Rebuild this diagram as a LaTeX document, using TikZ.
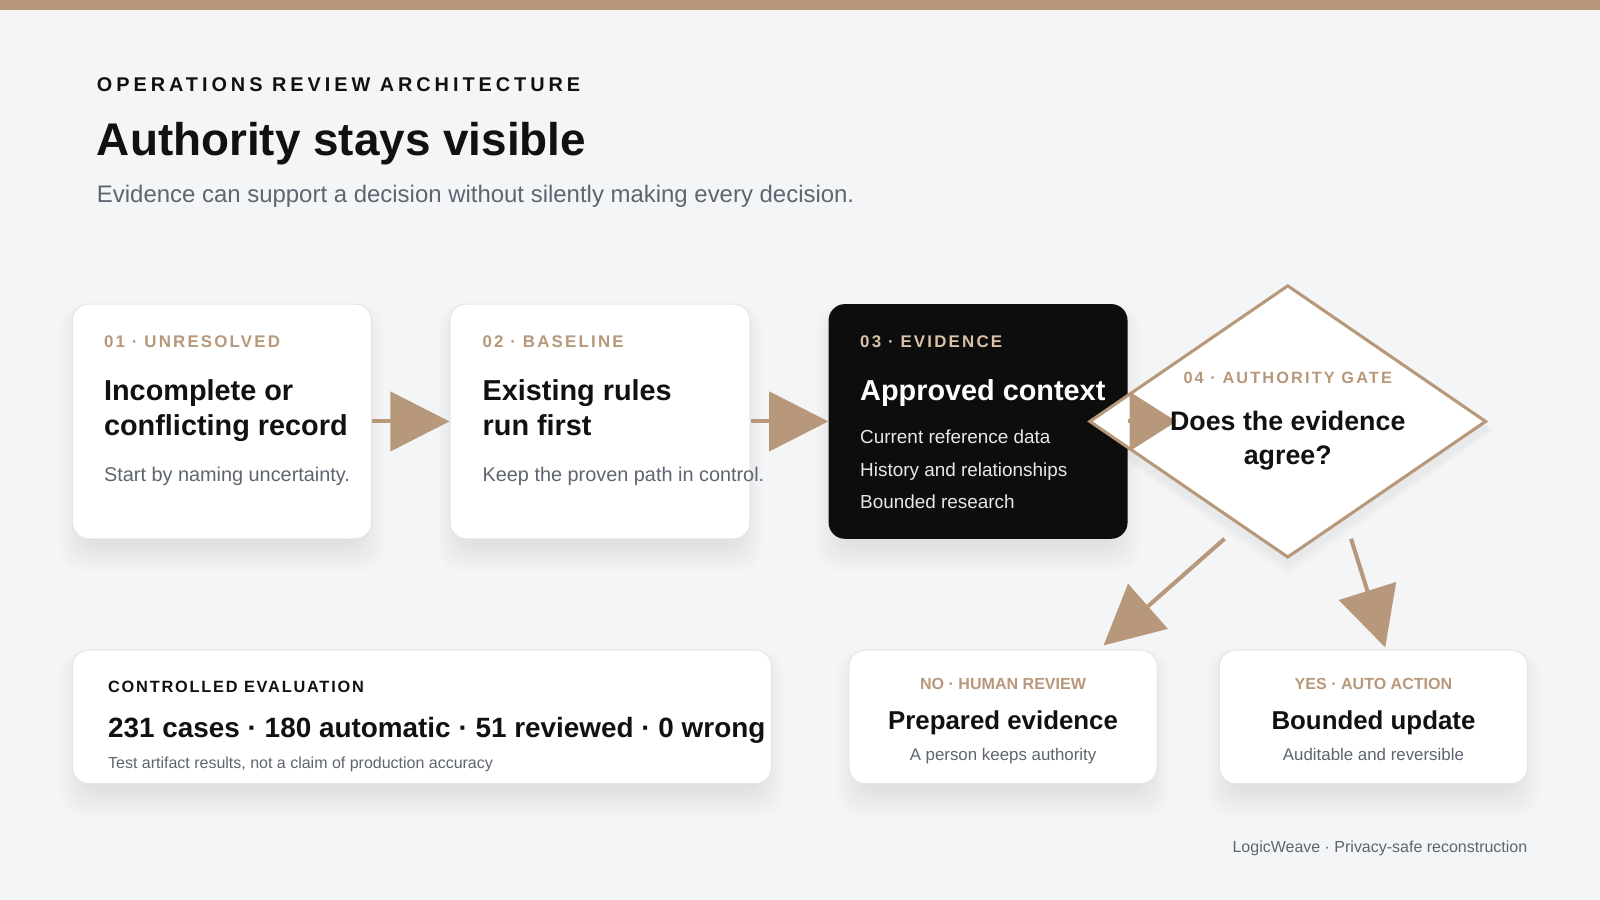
\documentclass[tikz,border=0pt]{standalone}
\usepackage{fontspec}
\setmainfont{Liberation Sans}
\usetikzlibrary{arrows.meta,shapes.geometric,calc,fit}
\definecolor{tan}{HTML}{B8987A}
\definecolor{tanlight}{HTML}{D9C2A8}
\definecolor{bgc}{HTML}{F4F5F7}
\definecolor{ink}{HTML}{111111}
\definecolor{graytxt}{HTML}{5E6570}
\definecolor{cardline}{HTML}{E3E5E9}
\definecolor{darkcard}{HTML}{0D0D0D}
\definecolor{listtxt}{HTML}{E8E8E8}
\newcommand\softshade[4]{%
  \foreach \k in {1,...,10}{%
    \fill[black,opacity=0.0065,rounded corners=16pt]
      ({#1+12-\k*2.4},{#2+14-\k*1.4}) rectangle ({#3-12+\k*2.4},{#4+4+\k*2.8});
  }%
}
\begin{document}
\begin{tikzpicture}[x=0.75pt,y=-0.75pt,
  card/.style={draw=cardline,line width=0.75pt,fill=white,rounded corners=12pt,inner sep=0pt},
  darkbox/.style={draw=none,fill=darkcard,rounded corners=12pt,inner sep=0pt},
  txt/.style={inner sep=0pt,outer sep=0pt,anchor=base west},
  eyebrow/.style={txt,text=ink,font=\bfseries\fontsize{14.6pt}{17pt}\selectfont\addfontfeatures{LetterSpace=20}},
  titlef/.style={txt,text=ink,font=\bfseries\fontsize{33.7pt}{40pt}\selectfont},
  subf/.style={txt,text=graytxt,font=\fontsize{17.6pt}{21pt}\selectfont},
  steplbl/.style={txt,text=tan,font=\bfseries\fontsize{12.4pt}{15pt}\selectfont\addfontfeatures{LetterSpace=13}},
  cardtitle/.style={txt,text=ink,font=\bfseries\fontsize{21.2pt}{26pt}\selectfont},
  cardbody/.style={txt,text=graytxt,font=\fontsize{14.6pt}{18pt}\selectfont},
  listitem/.style={txt,text=listtxt,font=\fontsize{13.9pt}{17pt}\selectfont},
  gatelbl/.style={inner sep=0pt,anchor=base,text=tan,font=\bfseries\fontsize{12pt}{14pt}\selectfont\addfontfeatures{LetterSpace=13}},
  gatetxt/.style={inner sep=0pt,anchor=base,text=ink,font=\bfseries\fontsize{19.7pt}{24pt}\selectfont},
  evallbl/.style={txt,text=ink,font=\bfseries\fontsize{12pt}{14pt}\selectfont\addfontfeatures{LetterSpace=11}},
  evalbig/.style={txt,text=ink,font=\bfseries\fontsize{20.5pt}{24pt}\selectfont},
  evalsmall/.style={txt,text=graytxt,font=\fontsize{11.75pt}{14pt}\selectfont},
  outlbl/.style={inner sep=0pt,anchor=base,text=tan,font=\bfseries\fontsize{11.8pt}{14pt}\selectfont},
  outtitle/.style={inner sep=0pt,anchor=base,text=ink,font=\bfseries\fontsize{19pt}{23pt}\selectfont},
  outbody/.style={inner sep=0pt,anchor=base,text=graytxt,font=\fontsize{12.4pt}{15pt}\selectfont},
  footer/.style={inner sep=0pt,anchor=base east,text=graytxt,font=\fontsize{11.75pt}{14pt}\selectfont},
  flow/.style={draw=tan,line width=3pt,-{Triangle[length=43.5pt,width=43.5pt]}},
  flowsmall/.style={draw=tan,line width=3pt,-{Triangle[length=34.5pt,width=43pt]}},
]
% canvas
\fill[bgc] (0,0) rectangle (1568,882);
\useasboundingbox (0,0) rectangle (1568,882);
\fill[tan] (0,0) rectangle (1568,10);

% header
\node[eyebrow] (eyebrow) at (95,90) {OPERATIONS REVIEW ARCHITECTURE};
\node[titlef] (title) at (95,152) {Authority stays visible};
\node[subf] (sub) at (95,198) {Evidence can support a decision without silently making every decision.};

% soft shadows
\softshade{71}{298}{364}{528}
\softshade{441}{298}{735}{528}
\softshade{812}{298}{1105}{528}
\softshade{71}{637}{756}{768}
\softshade{832}{637}{1134}{768}
\softshade{1195}{637}{1497}{768}
\foreach \k in {1,...,6}{%
  \fill[black,opacity=0.006] ({1262},{280+8+\k}) -- ({1457+\k*1.5},{421}) -- ({1262},{547+6+\k*2}) -- ({1068-\k*1.5},{421}) -- cycle;
}

% cards
\node[card,fit={(71,298) (364,528)}] (c1) {};
\node[card,fit={(441,298) (735,528)}] (c2) {};
\node[darkbox,fit={(812,298) (1105,528)}] (c3) {};

% connectors between cards
\draw[flow] (c1.east) -- (c2.west);
\draw[flow] (c2.east) -- (c3.west);

% card 1 text
\node[steplbl] (l1) at (102,341) {01 · UNRESOLVED};
\node[cardtitle] (t1a) at (102,392) {Incomplete or};
\node[cardtitle] (t1b) at (102,427) {conflicting record};
\node[cardbody] (b1) at (102,472) {Start by naming uncertainty.};

% card 2 text
\node[steplbl] (l2) at (473,341) {02 · BASELINE};
\node[cardtitle] (t2a) at (473,392) {Existing rules};
\node[cardtitle] (t2b) at (473,427) {run first};
\node[cardbody] (b2) at (473,472) {Keep the proven path in control.};

% card 3 text
\node[steplbl,text=tanlight] (l3) at (843,341) {03 · EVIDENCE};
\node[cardtitle,text=white] (t3) at (843,392) {Approved context};
\node[listitem] (i1) at (843,435) {Current reference data};
\node[listitem] (i2) at (843,467) {History and relationships};
\node[listitem] (i3) at (843,498) {Bounded research};

% gate
\node[diamond,draw=tan,line width=2.25pt,fill=white,aspect=1.457,inner sep=0pt,
      minimum width=291.75pt,minimum height=200.25pt] (gate) at (1262,413) {};
\coordinate (gatein) at (1153,413);
\draw[flowsmall] (c3.east) -- (gatein);
\node[gatelbl] (gl) at (1262,376) {04 · AUTHORITY GATE};
\node[gatetxt] (gt1) at (1262,422) {Does the evidence};
\node[gatetxt] (gt2) at (1262,455) {agree?};

% bottom cards
\node[card,fit={(71,637) (756,768)}] (eval) {};
\node[card,fit={(832,637) (1134,768)}] (no) {};
\node[card,fit={(1195,637) (1497,768)}] (yes) {};

% decision connectors
\coordinate (dno) at (1200,528);
\coordinate (dyes) at (1324,528);
\draw[flow] (dno) -- ($(no.north west)+(250,-4)$);
\draw[flow] (dyes) -- ($(yes.north west)+(163,-2)$);

% eval text
\node[evallbl] (el) at (106,679) {CONTROLLED EVALUATION};
\node[evalbig] (eb) at (106,723) {231 cases · 180 automatic · 51 reviewed · 0 wrong};
\node[evalsmall] (es) at (106,753) {Test artifact results, not a claim of production accuracy};

% outcome text
\node[outlbl] (nol) at (983,676) {NO · HUMAN REVIEW};
\node[outtitle] (not) at (983,715) {Prepared evidence};
\node[outbody] (nob) at (983,745) {A person keeps authority};
\node[outlbl] (yesl) at (1346,676) {YES · AUTO ACTION};
\node[outtitle] (yest) at (1346,715) {Bounded update};
\node[outbody] (yesb) at (1346,745) {Auditable and reversible};

% footer
\node[footer] (foot) at (1497,835) {LogicWeave · Privacy-safe reconstruction};
\end{tikzpicture}
\end{document}
